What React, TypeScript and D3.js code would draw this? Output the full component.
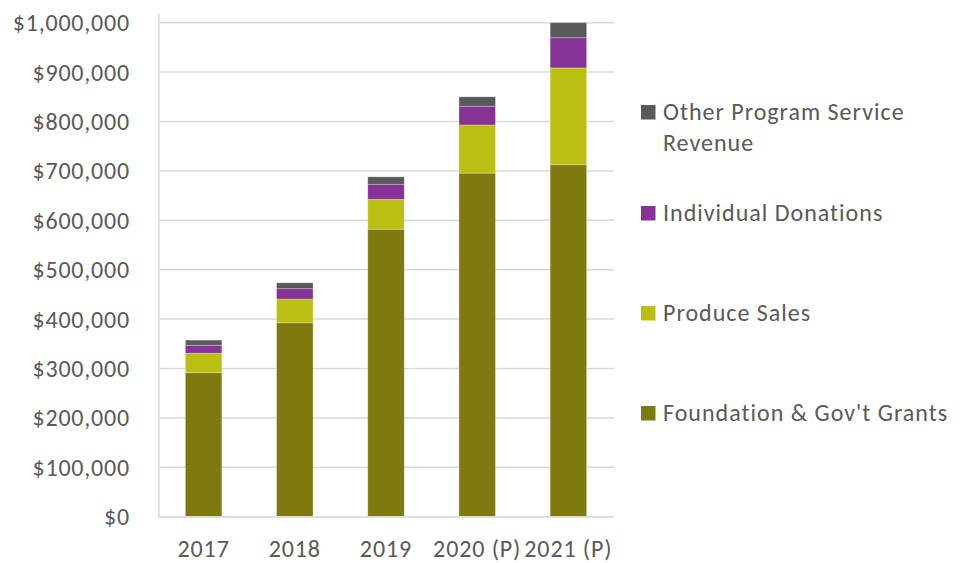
import React from "react";
import * as d3 from "d3";

const years = ["2017", "2018", "2019", "2020 (P)", "2021 (P)"];
const grants = [291500, 392500, 582000, 695500, 712500];
const produce = [39500, 48000, 60500, 97500, 196000];
const donations = [16000, 21000, 30500, 38000, 61000];
const other = [10500, 12000, 15000, 19000, 30500];
const yTicks = [0, 100000, 200000, 300000, 400000, 500000, 600000, 700000, 800000, 900000, 1000000];

const seriesNames = ["Foundation & Gov't Grants", "Produce Sales", "Individual Donations", "Other Program Service Revenue"];
const seriesColors = ["#7F7A10", "#BBBF12", "#873296", "#58595B"];

const W = 969;
const H = 563;
const plot = { left: 158, right: 614, top: 22.7, bottom: 516.7 };
const FONT = "Carlito, Calibri, Lato, 'Open Sans', sans-serif";
const TXT = "#595959";

export default function App() {
  const x = d3.scaleBand<string>().domain(years).range([plot.left, plot.right]).paddingInner(0.6).paddingOuter(0.3);
  const y = d3.scaleLinear().domain([0, 1000000]).range([plot.bottom, plot.top]);
  const rows = years.map((yr, i) => ({ year: yr, g: grants[i], p: produce[i], d: donations[i], o: other[i] }));
  const stack = d3.stack<any>().keys(["g", "p", "d", "o"]);
  const layers = stack(rows);
  const fmt = (v: number) => "$" + d3.format(",")(v);

  const legendRows = [
    { i: 3, lines: ["Other Program Service", "Revenue"], y: 112 },
    { i: 2, lines: ["Individual Donations"], y: 213 },
    { i: 1, lines: ["Produce Sales"], y: 313 },
    { i: 0, lines: ["Foundation & Gov't Grants"], y: 413 },
  ];

  return (
    <svg width={W} height={H} style={{ position: "absolute", left: 0, top: 0, background: "#fff" }} fontFamily={FONT}>
      {yTicks.map((t) => (
        <line key={"g" + t} x1={plot.left} x2={plot.right} y1={y(t)} y2={y(t)} stroke="#D9D9D9" strokeWidth={1.5} />
      ))}
      <line x1={plot.left + 1} x2={plot.left + 1} y1={14} y2={plot.bottom} stroke="#D9D9D9" strokeWidth={1.5} />
      {yTicks.map((t) => (
        <text key={"t" + t} x={130} y={y(t)} dy="0.35em" textAnchor="end" fontSize={24} letterSpacing={0.8} fill={TXT}>
          {fmt(t)}
        </text>
      ))}
      {layers.map((layer, li) => (
        <g key={li} fill={seriesColors[li]}>
          {layer.map((d: any, j: number) => (
            <rect
              key={j}
              x={x(years[j])!}
              width={x.bandwidth()}
              y={y(d[1])}
              height={y(d[0]) - y(d[1])}
              stroke="rgba(255,255,255,0.35)"
              strokeWidth={0.75}
            />
          ))}
        </g>
      ))}
      <line x1={plot.left} x2={plot.right} y1={plot.bottom} y2={plot.bottom} stroke="#D9D9D9" strokeWidth={1.5} />
      {years.map((yr) => (
        <text key={yr} x={x(yr)! + x.bandwidth() / 2} y={549} dy="0.35em" textAnchor="middle" fontSize={24} letterSpacing={0.9} fill={TXT}>
          {yr}
        </text>
      ))}
      {legendRows.map((r) => (
        <g key={r.i}>
          <rect x={641} y={r.y - 7} width={14.5} height={14.5} fill={seriesColors[r.i]} />
          {r.lines.map((ln, k) => (
            <text key={k} x={663} y={r.y + k * 31} dy="0.35em" fontSize={24} letterSpacing={1} fill={TXT}>
              {ln}
            </text>
          ))}
        </g>
      ))}
    </svg>
  );
}
